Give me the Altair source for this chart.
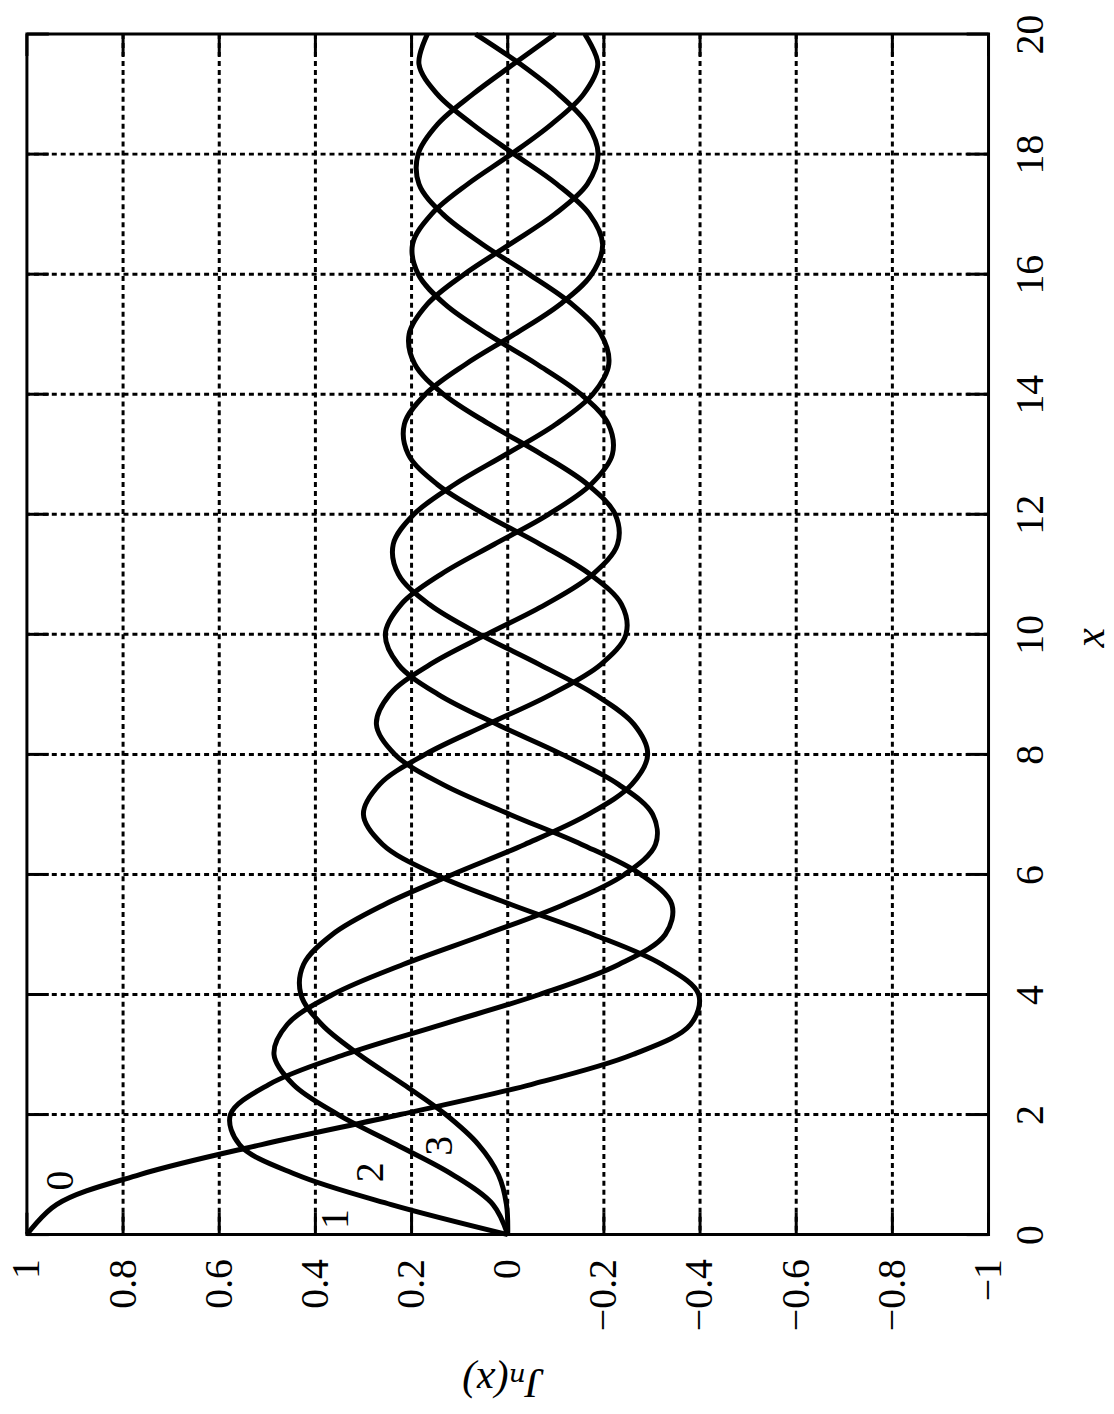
import altair as alt
import pandas as pd

# sample points along x
x_vals = [0, 0.5, 1, 1.5, 2, 2.5, 3, 3.5, 4, 4.5, 5, 5.5, 6, 6.5, 7, 7.5, 8, 8.5, 9, 9.5,
          10, 10.5, 11, 11.5, 12, 12.5, 13, 13.5, 14, 14.5, 15, 15.5, 16, 16.5, 17, 17.5,
          18, 18.5, 19, 19.5, 20]

J0 = [1.0, 0.9385, 0.7652, 0.5118, 0.2239, -0.0484, -0.2601, -0.3801, -0.3971, -0.3205,
      -0.1776, -0.0068, 0.1506, 0.2601, 0.3001, 0.2663, 0.1717, 0.0419, -0.0903, -0.1939,
      -0.2459, -0.2366, -0.1712, -0.0677, 0.0477, 0.1469, 0.2069, 0.2150, 0.1711, 0.0875,
      -0.0142, -0.1092, -0.1749, -0.1973, -0.1699, -0.1022, -0.0134, 0.0735, 0.1466, 0.1846,
      0.1670]
J1 = [0.0, 0.2423, 0.4401, 0.5579, 0.5767, 0.4971, 0.3391, 0.1374, -0.0660, -0.2311,
      -0.3276, -0.3414, -0.2767, -0.1538, -0.0047, 0.1352, 0.2346, 0.2731, 0.2453, 0.1613,
      0.0435, -0.0789, -0.1768, -0.2284, -0.2234, -0.1655, -0.0703, 0.0380, 0.1334, 0.1934,
      0.2051, 0.1672, 0.0904, -0.0047, -0.0977, -0.1655, -0.1880, -0.1655, -0.1057, -0.0262,
      0.0668]
J2 = [0.0, 0.0306, 0.1149, 0.2321, 0.3528, 0.4461, 0.4861, 0.4586, 0.3641, 0.2178,
      0.0466, -0.1173, -0.2429, -0.3074, -0.3014, -0.2303, -0.1130, 0.0223, 0.1448, 0.2279,
      0.2546, 0.2216, 0.1390, 0.0279, -0.0849, -0.1734, -0.2177, -0.2094, -0.1520, -0.0609,
      0.0416, 0.1307, 0.1862, 0.1979, 0.1584, 0.0833, -0.0075, -0.0914, -0.1578, -0.1873,
      -0.1603]
J3 = [0.0, 0.0026, 0.0196, 0.0610, 0.1289, 0.2166, 0.3091, 0.3868, 0.4302, 0.4247,
      0.3649, 0.2561, 0.1148, -0.0354, -0.1675, -0.2580, -0.2911, -0.2626, -0.1809, -0.0653,
      0.0583, 0.1633, 0.2273, 0.2381, 0.1951, 0.1100, 0.0033, -0.1000, -0.1768, -0.2102,
      -0.1940, -0.1335, -0.0438, 0.0527, 0.1350, 0.1845, 0.1863, 0.1457, 0.0725, -0.0122,
      -0.0989]

series_names = ["0", "1", "2", "3"]
series_values = [J0, J1, J2, J3]

j_ticks = [1, 0.8, 0.6, 0.4, 0.2, 0, -0.2, -0.4, -0.6, -0.8, -1]
x_ticks = [0, 2, 4, 6, 8, 10, 12, 14, 16, 18, 20]

label_text = ["0", "1", "2", "3"]
label_j = [0.928, 0.358, 0.284, 0.141]
label_x = [0.90, 0.26, 1.04, 1.48]

W, H = 966, 1206
TICK = 22
FONT = "Liberation Serif, Times New Roman, DejaVu Serif, serif"

rows = []
for name, vals in zip(series_names, series_values):
    for xv, jv in zip(x_vals, vals):
        rows.append({"n": name, "x": xv, "J": jv})
curves_df = pd.DataFrame(rows)
jt_df = pd.DataFrame({"J": j_ticks})
xt_df = pd.DataFrame({"x": x_ticks})
lab_df = pd.DataFrame({"label": label_text, "J": label_j, "x": label_x})

jscale = alt.Scale(domain=[-1, 1], reverse=True, nice=False, zero=False)
xscale = alt.Scale(domain=[0, 20], nice=False, zero=False)

jaxis = alt.Axis(
    values=j_ticks, format="~g", orient="bottom",
    labelAngle=270, labelAlign="right", labelBaseline="middle",
    labelPadding=24, labelFont=FONT, labelFontSize=40, labelColor="black",
    labelFlush=False, labelOverlap=False,
    ticks=False, domain=False, grid=False,
    title="Jₙ(x)", titleAngle=180, titleFont=FONT, titleFontStyle="italic",
    titleFontWeight="normal", titleFontSize=42, titleColor="black",
    titleAlign="center", titleBaseline="middle", titleX=478, titleY=148,
)
xaxis = alt.Axis(
    values=x_ticks, format="~g", orient="right",
    labelAngle=270, labelAlign="center", labelBaseline="top",
    labelPadding=22, labelFont=FONT, labelFontSize=40, labelColor="black",
    labelFlush=False, labelOverlap=False,
    ticks=False, domain=False, grid=False,
    title="x", titleAngle=270, titleFont=FONT, titleFontStyle="italic",
    titleFontWeight="normal", titleFontSize=44, titleColor="black",
    titleAlign="center", titleBaseline="middle", titleX=102, titleY=606,
)

def JX():
    return alt.X("J:Q", scale=jscale, axis=jaxis)

def XY():
    return alt.Y("x:Q", scale=xscale, axis=xaxis)

curves = alt.Chart(curves_df).mark_line(
    color="black", strokeWidth=5, interpolate="catmull-rom"
).encode(x=JX(), y=XY(), detail="n:N", order="x:Q")

grid_v = alt.Chart(jt_df).transform_filter(
    "datum.J > -1 && datum.J < 1"
).mark_rule(color="black", strokeWidth=3, strokeDash=[5, 4]).encode(x=JX())
grid_h = alt.Chart(xt_df).transform_filter(
    "datum.x > 0 && datum.x < 20"
).mark_rule(color="black", strokeWidth=3, strokeDash=[5, 4]).encode(y=XY())

tick_bottom = alt.Chart(jt_df).mark_rule(color="black", strokeWidth=3).encode(
    x=JX(), y=alt.value(H), y2=alt.value(H - TICK)
)
tick_top = alt.Chart(jt_df).mark_rule(color="black", strokeWidth=3).encode(
    x=JX(), y=alt.value(0), y2=alt.value(TICK)
)
tick_left = alt.Chart(xt_df).mark_rule(color="black", strokeWidth=3).encode(
    y=XY(), x=alt.value(0), x2=alt.value(TICK)
)
tick_right = alt.Chart(xt_df).mark_rule(color="black", strokeWidth=3).encode(
    y=XY(), x=alt.value(W), x2=alt.value(W - TICK)
)

labels = alt.Chart(lab_df).mark_text(
    angle=270, font=FONT, fontSize=40, color="black", align="center", baseline="middle"
).encode(x=JX(), y=XY(), text="label:N")

chart = alt.layer(
    curves, grid_v, grid_h, tick_bottom, tick_top, tick_left, tick_right, labels
).properties(
    width=W, height=H,
    autosize=alt.AutoSizeParams(type="none"),
    padding={"left": 19, "top": 23, "right": 118, "bottom": 172},
    background="white",
).configure_view(stroke="black", strokeWidth=3)

chart.save("out.html", embed_options={"renderer": "svg", "actions": False})
